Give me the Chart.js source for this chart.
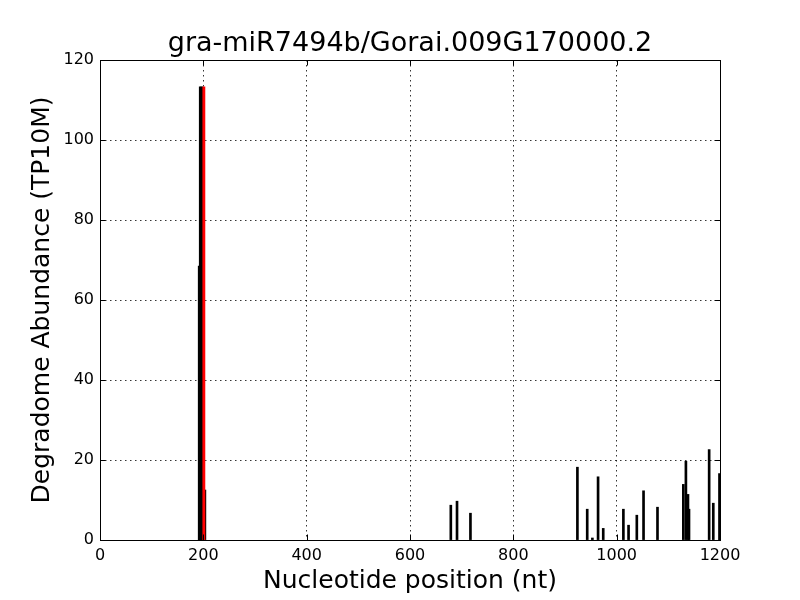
<!DOCTYPE html>
<html>
<head>
<meta charset="utf-8">
<script src="https://cdn.jsdelivr.net/npm/chart.js@4.4.1/dist/chart.umd.min.js"></script>
<style>
  html, body { margin: 0; padding: 0; background: #fff; }
  #wrap { width: 800px; height: 600px; }
</style>
</head>
<body>
<div id="wrap"><canvas id="chart" width="800" height="600"></canvas></div>
<script>
// Degradome reads along the transcript
const positions = [192, 194, 197, 203, 679, 691, 717, 924, 943, 953, 964, 974,
    1013, 1023, 1039, 1052, 1079, 1129, 1134, 1138, 1140, 1179, 1187, 1199];
const abundance = [68.5, 113.3, 113.3, 12.5, 8.7, 9.7, 6.7, 18.2, 7.7, 0.5, 15.8, 2.9,
    7.7, 3.7, 6.2, 12.3, 8.2, 13.9, 19.7, 11.4, 7.7, 22.6, 9.2, 16.6];

// miRNA cleavage site (red)
const sitePositions = [201];
const siteAbundance = [113.3];

const titleText = 'gra-miR7494b/Gorai.009G170000.2';
const xLabel = 'Nucleotide position (nt)';
const yLabel = 'Degradome Abundance (TP10M)';

const FONT = 'DejaVu Sans';

const toPoints = (xs, ys) => xs.map((x, i) => ({ x: x, y: ys[i] }));

// Title centred over the plot area (matplotlib style)
const plotTitle = {
    id: 'plotTitle',
    afterDraw: function(chart) {
        const { ctx, chartArea: a } = chart;
        ctx.save();
        ctx.fillStyle = '#000';
        ctx.font = '27px "' + FONT + '"';
        ctx.textAlign = 'center';
        ctx.textBaseline = 'alphabetic';
        ctx.fillText(titleText, (a.left + a.right) / 2, a.top - 9);
        ctx.restore();
    }
};

// Frame on all four sides plus inward ticks
const frameTicks = {
    id: 'frameTicks',
    afterDraw: function(chart) {
        const { ctx, chartArea: a, scales } = chart;
        const len = 5.5;
        ctx.save();
        ctx.strokeStyle = '#000';
        ctx.lineWidth = 1;
        ctx.beginPath();
        scales.x.ticks.forEach(t => {
            const px = Math.round(scales.x.getPixelForValue(t.value)) + 0.5;
            ctx.moveTo(px, a.bottom); ctx.lineTo(px, a.bottom - len);
            ctx.moveTo(px, a.top); ctx.lineTo(px, a.top + len);
        });
        scales.y.ticks.forEach(t => {
            const py = Math.round(scales.y.getPixelForValue(t.value)) + 0.5;
            ctx.moveTo(a.left, py); ctx.lineTo(a.left + len, py);
            ctx.moveTo(a.right, py); ctx.lineTo(a.right - len, py);
        });
        ctx.stroke();
        ctx.strokeRect(Math.round(a.left) + 0.5, Math.round(a.top) + 0.5,
            Math.round(a.width), Math.round(a.height));
        ctx.restore();
    }
};

const gridOpts = {
    color: '#000',
    lineWidth: 0.8,
    drawTicks: false,
    offset: false
};

new Chart(document.getElementById('chart').getContext('2d'), {
    type: 'bar',
    data: {
        datasets: [
            {
                label: 'reads',
                data: toPoints(positions, abundance),
                backgroundColor: '#000',
                borderWidth: 0,
                barThickness: 2,
                grouped: false,
                order: 1
            },
            {
                label: 'site',
                data: toPoints(sitePositions, siteAbundance),
                backgroundColor: '#ff0000',
                borderWidth: 0,
                barThickness: 2.2,
                grouped: false,
                order: 0
            }
        ]
    },
    options: {
        responsive: false,
        animation: false,
        layout: { padding: { top: 60, right: 80, bottom: 0, left: 0 } },
        plugins: {
            legend: { display: false },
            tooltip: { enabled: false },
            title: { display: false }
        },
        scales: {
            x: {
                type: 'linear',
                offset: false,
                min: 0,
                max: 1200,
                afterFit: s => { s.height = 60; },
                grid: gridOpts,
                border: { display: false, dash: [1.5, 3.5] },
                ticks: {
                    stepSize: 200,
                    autoSkip: false,
                    color: '#000',
                    padding: 6,
                    maxRotation: 0,
                    font: { family: FONT, size: 16 },
                    callback: v => String(v)
                },
                title: {
                    display: true,
                    text: xLabel,
                    color: '#000',
                    font: { family: FONT, size: 25 },
                    padding: { top: 0, bottom: 4 }
                }
            },
            y: {
                min: 0,
                max: 120,
                afterFit: s => { s.width = 100; },
                grid: gridOpts,
                border: { display: false, dash: [1.5, 3.5] },
                ticks: {
                    stepSize: 20,
                    autoSkip: false,
                    color: '#000',
                    padding: 6,
                    font: { family: FONT, size: 16 },
                    callback: v => String(v)
                },
                title: {
                    display: true,
                    text: yLabel,
                    color: '#000',
                    font: { family: FONT, size: 25 },
                    padding: { top: 27, bottom: 0 }
                }
            }
        }
    },
    plugins: [frameTicks, plotTitle]
});
</script>
</body>
</html>
